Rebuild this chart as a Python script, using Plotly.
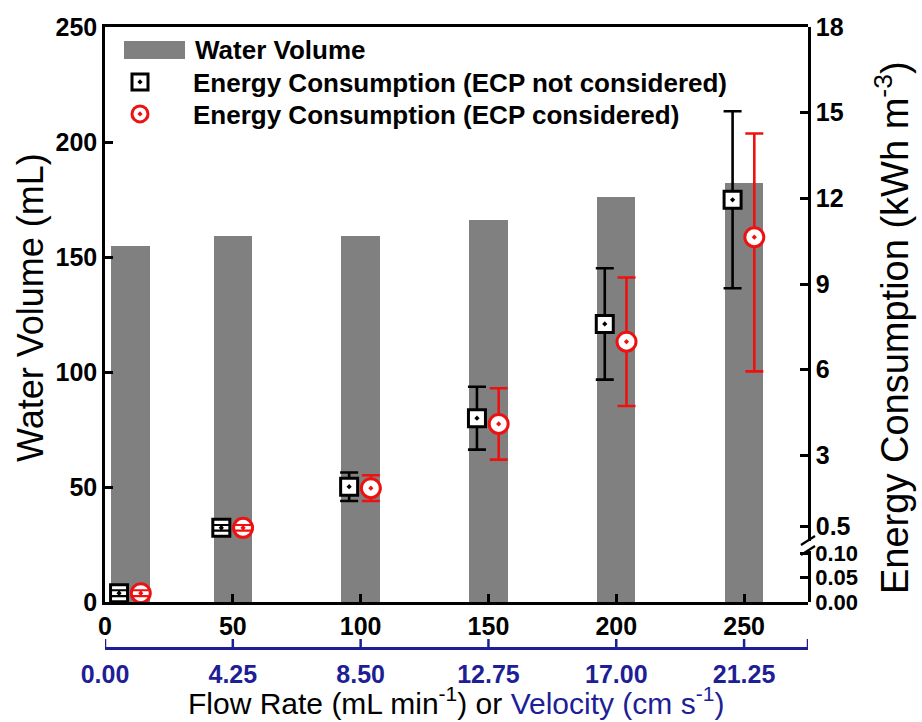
import plotly.graph_objects as go

# ---- data -------------------------------------------------------------
flow_rate = [10, 50, 100, 150, 200, 250]                 # mL min-1
water_volume = [155, 159, 159, 166, 176, 182]            # mL

energy_no_ecp = [0.018, 0.46, 1.9, 4.3, 7.6, 11.95]      # kWh m-3
energy_no_ecp_err = [0.006, 0.1, 0.5, 1.1, 1.95, 3.1]

energy_ecp = [0.018, 0.46, 1.85, 4.1, 6.98, 10.64]       # kWh m-3
energy_ecp_err_plus = [0.006, 0.1, 0.45, 1.25, 2.25, 3.63]
energy_ecp_err_minus = [0.006, 0.1, 0.45, 1.25, 2.25, 4.7]

flow_ticks = [0, 50, 100, 150, 200, 250]
velocity_ticks = [0.00, 4.25, 8.50, 12.75, 17.00, 21.25]   # cm s-1
velocity_labels = ["0.00", "4.25", "8.50", "12.75", "17.00", "21.25"]

upper_ticks = [0.5, 3, 6, 9, 12, 15, 18]
upper_labels = ["0.5", "3", "6", "9", "12", "15", "18"]
lower_ticks = [0.0, 0.05, 0.10]
lower_labels = ["0.00", "0.05", "0.10"]

# ---- layout geometry (pixels) -----------------------------------------
W, H = 922, 722
L, R, T, B = 105, 808, 27, 647          # paper area
PLOT_BOTTOM = 602                       # bottom of the plotting area
BREAK_HI, BREAK_LO = 541, 551           # axis break on the right axis

FLOW_MAX = 275
VOL_MAX = 250
UPPER_RANGE = [0, 18]
LOWER_MAX = (PLOT_BOTTOM - BREAK_LO) / 490.0
SPLIT = 0.1                              # values below go on the lower segment
vel_per_flow = velocity_ticks[1] / flow_ticks[1]
VEL_MAX = FLOW_MAX * vel_per_flow

def px_x(p):
    return (p - L) / (R - L)

def px_y(p):
    return (B - p) / (B - T)

y_bottom = px_y(PLOT_BOTTOM)

BLACK = "#000000"
RED = "#ee1111"
NAVY = "#1e1e96"
GRAY = "#808080"
FONT = "Liberation Sans, Arial, sans-serif"

MS_SQ, MS_CI = 17, 19
upper_px_per_unit = (BREAK_HI - T) / (UPPER_RANGE[1] - UPPER_RANGE[0])
lower_px_per_unit = (PLOT_BOTTOM - BREAK_LO) / LOWER_MAX

fig = go.Figure()

fig.add_trace(go.Bar(
    x=flow_rate, y=water_volume, width=15, name="Water Volume",
    marker=dict(color=GRAY, line=dict(width=0)),
    xaxis="x", yaxis="y", showlegend=False, hoverinfo="x+y",
))

# velocity scale: a thin strip under the plot holding the axis line and
# its upward tick marks, drawn as error-bar stems from the tick positions
vel_marks = velocity_ticks + [VEL_MAX]
fig.add_trace(go.Scatter(
    x=vel_marks, y=[0] * len(vel_marks),
    xaxis="x2", yaxis="y4", mode="markers", marker=dict(opacity=0, size=1),
    error_y=dict(type="data", symmetric=False, array=[1] * len(vel_marks),
                 arrayminus=[0] * len(vel_marks), color=NAVY,
                 thickness=2.5, width=0),
    showlegend=False, hoverinfo="skip", cliponaxis=False,
))


def add_energy(values, eplus, eminus, dx, symbol, size, color, legend):
    xs = [f + dx for f in flow_rate]
    for seg, axis, scale in (("upper", "y2", upper_px_per_unit),
                             ("lower", "y3", lower_px_per_unit)):
        idx = [i for i, v in enumerate(values)
               if (v >= SPLIT) == (seg == "upper")]
        if not idx:
            continue
        px = [xs[i] for i in idx]
        py = [values[i] for i in idx]
        ep = [eplus[i] for i in idx]
        em = [eminus[i] for i in idx]
        err = dict(type="data", symmetric=False, array=ep, arrayminus=em,
                   color=color, thickness=2.6, width=9)
        fig.add_trace(go.Scatter(
            x=px, y=py, mode="markers", yaxis=axis, xaxis="x",
            name=legend[1], legend=legend[0], showlegend=(seg == "upper"),
            marker=dict(symbol=symbol, size=size, color="white",
                        line=dict(color=color, width=3)),
            error_y=err,
        ))
        # short error bars that fit inside the symbol stay visible on top
        small = [k for k in range(len(idx))
                 if max(ep[k], em[k]) * scale < size / 2]
        if small:
            fig.add_trace(go.Scatter(
                x=[px[k] for k in small], y=[py[k] for k in small],
                mode="markers", yaxis=axis, xaxis="x", showlegend=False,
                hoverinfo="skip", marker=dict(size=2, opacity=0),
                error_y=dict(type="data", symmetric=False,
                             array=[ep[k] for k in small],
                             arrayminus=[em[k] for k in small],
                             color=color, thickness=2.2, width=8),
            ))


add_energy(energy_no_ecp, energy_no_ecp_err, energy_no_ecp_err, -4.5,
           "square-dot", MS_SQ, BLACK,
           ("legend", "Energy Consumption (ECP not considered)"))
add_energy(energy_ecp, energy_ecp_err_plus, energy_ecp_err_minus, 4.0,
           "circle-dot", MS_CI, RED,
           ("legend2", "Energy Consumption (ECP considered)"))

tick_font = dict(family=FONT, size=25, color=BLACK, weight="bold")
axis_common = dict(showgrid=False, zeroline=False, showline=True,
                   linewidth=2.5, linecolor=BLACK, ticks="inside",
                   ticklen=8, tickwidth=2.5, tickcolor=BLACK)

legend_common = dict(font=dict(family=FONT, size=26, color=BLACK, weight="bold"),
                     bgcolor="rgba(0,0,0,0)", borderwidth=0, itemwidth=96,
                     xanchor="left", yanchor="middle", x=px_x(87))

fig.update_layout(
    width=W, height=H,
    margin=dict(l=L, r=W - R, t=T, b=H - B, autoexpand=False),
    plot_bgcolor="rgba(0,0,0,0)", paper_bgcolor="white",
    bargap=0, barmode="overlay",
    xaxis=dict(domain=[0, 1], range=[0, FLOW_MAX], anchor="y",
               tickvals=flow_ticks, mirror=True, tickfont=tick_font,
               **axis_common),
    xaxis2=dict(domain=[0, 1], anchor="y4", side="bottom",
                range=[0, VEL_MAX],
                tickvals=velocity_ticks, ticktext=velocity_labels,
                showgrid=False, zeroline=False, showline=True,
                linewidth=2.5, linecolor=NAVY, ticks="",
                ticklabelstandoff=3,
                tickfont=dict(family=FONT, size=25, color=NAVY, weight="bold")),
    # 8 px tall strip; the tick stems span its full height
    yaxis4=dict(domain=[0, px_y(B - 8)], range=[0, 1], anchor="x2",
                visible=False),
    yaxis=dict(domain=[y_bottom, 1], range=[0, VOL_MAX], anchor="x",
               tickvals=[0, 50, 100, 150, 200, 250], tickfont=tick_font,
               **axis_common),
    yaxis2=dict(domain=[px_y(BREAK_HI), 1], range=UPPER_RANGE, anchor="x",
                side="right", tickvals=upper_ticks, ticktext=upper_labels,
                tickfont=tick_font, **axis_common),
    yaxis3=dict(domain=[y_bottom, px_y(BREAK_LO)], range=[0, LOWER_MAX],
                anchor="x", side="right", tickvals=lower_ticks,
                ticktext=lower_labels,
                tickfont=dict(family=FONT, size=22, color=BLACK, weight="bold"),
                **axis_common),
    legend=dict(y=px_y(82), **legend_common),
    legend2=dict(y=px_y(114), **legend_common),
    showlegend=True,
)

# legend row for the bars: wide grey swatch + label
fig.add_shape(type="rect", xref="paper", yref="paper",
              x0=px_x(124), x1=px_x(185), y0=px_y(59), y1=px_y(41),
              fillcolor=GRAY, line=dict(width=0))
fig.add_annotation(text="Water Volume", xref="paper", yref="paper",
                   x=px_x(193), y=px_y(50), xanchor="left", yanchor="middle",
                   showarrow=False,
                   font=dict(family=FONT, size=26, color=BLACK, weight="bold"))

# axis-break marks on the right axis
for yb in (545, 555):
    fig.add_shape(type="line", xref="paper", yref="paper",
                  x0=px_x(801), y0=px_y(yb), x1=px_x(815), y1=px_y(yb - 9),
                  line=dict(color=BLACK, width=2.2))

title_font = dict(family=FONT, size=36, color=BLACK)
fig.add_annotation(text="Water Volume (mL)", xref="paper", yref="paper",
                   x=px_x(30), y=px_y(308), textangle=-90, showarrow=False,
                   xanchor="center", yanchor="middle", font=title_font)
fig.add_annotation(text="Energy Consumption (kWh m<sup>-3</sup>)",
                   xref="paper", yref="paper", x=px_x(892), y=px_y(328),
                   textangle=-90, showarrow=False, xanchor="center",
                   yanchor="middle", font=dict(family=FONT, size=38, color=BLACK))
fig.add_annotation(
    text=("Flow Rate (mL min<sup>-1</sup>) or "
          f"<span style='color:{NAVY}'>Velocity (cm s<sup>-1</sup>)</span>"),
    xref="paper", yref="paper", x=px_x(456), y=px_y(701), showarrow=False,
    xanchor="center", yanchor="middle",
    font=dict(family=FONT, size=30, color=BLACK))

fig.write_html("out.html")
